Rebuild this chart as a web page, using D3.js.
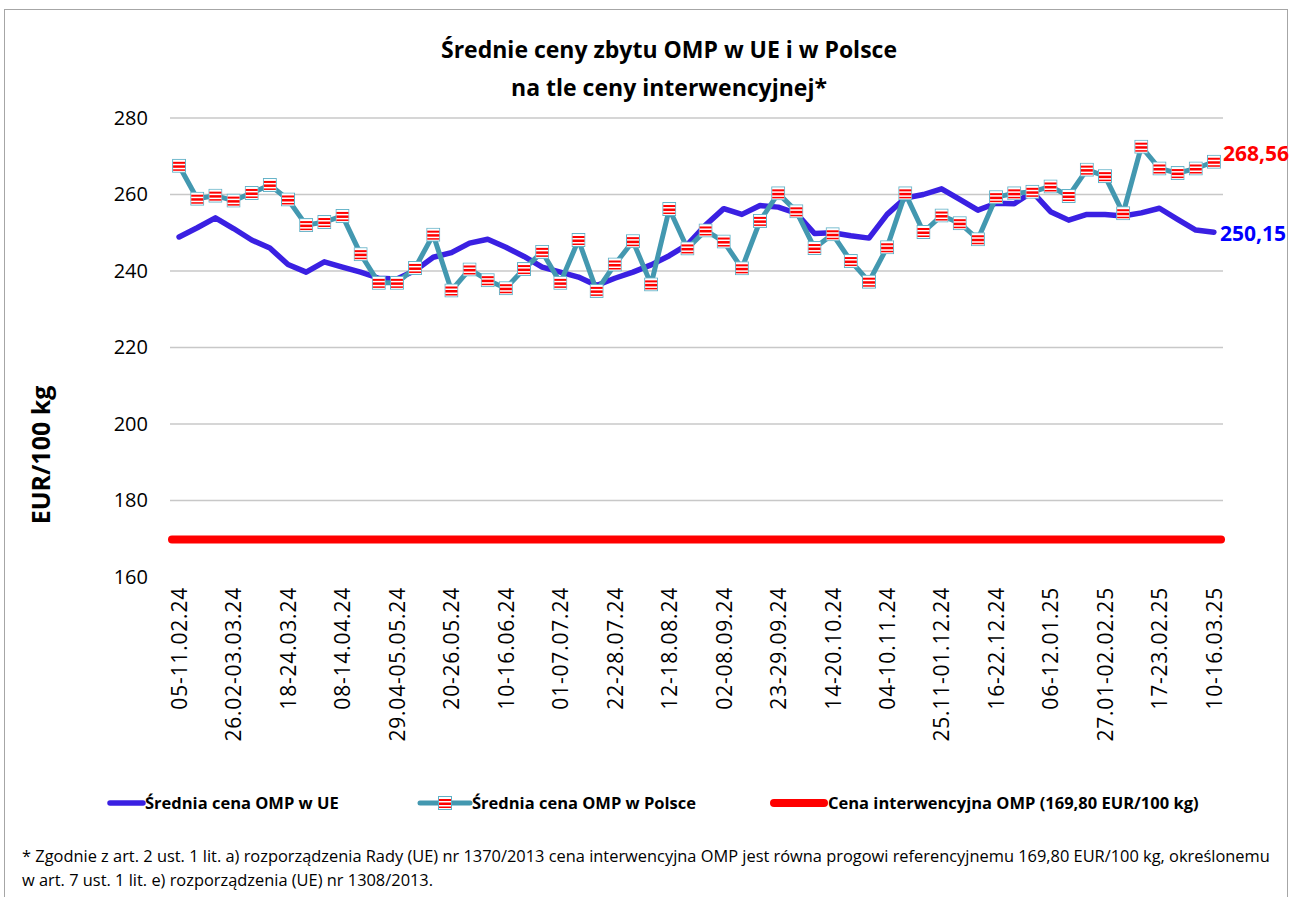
<!DOCTYPE html>
<html>
<head>
<meta charset="utf-8">
<script src="https://cdn.jsdelivr.net/npm/d3@7"></script>
<style>
  body { margin: 0; background: #fff; }
  svg { font-family: "Open Sans", sans-serif; }
</style>
</head>
<body>
<div id="chart"></div>
<script>
const width = 1291;
const height = 897;

// tygodnie notowań
const weeks = [
    "05-11.02.24", "12-18.02.24", "19-25.02.24", "26.02-03.03.24", "04-10.03.24", "11-17.03.24",
    "18-24.03.24", "25-31.03.24", "01-07.04.24", "08-14.04.24", "15-21.04.24", "22-28.04.24",
    "29.04-05.05.24", "06-12.05.24", "13-19.05.24", "20-26.05.24", "27.05-02.06.24", "03-09.06.24",
    "10-16.06.24", "17-23.06.24", "24-30.06.24", "01-07.07.24", "08-14.07.24", "15-21.07.24",
    "22-28.07.24", "29.07-04.08.24", "05-11.08.24", "12-18.08.24", "19-25.08.24", "26.08-01.09.24",
    "02-08.09.24", "09-15.09.24", "16-22.09.24", "23-29.09.24", "30.09-06.10.24", "07-13.10.24",
    "14-20.10.24", "21-27.10.24", "28.10-03.11.24", "04-10.11.24", "11-17.11.24", "18-24.11.24",
    "25.11-01.12.24", "02-08.12.24", "09-15.12.24", "16-22.12.24", "23-29.12.24", "30.12-05.01.25",
    "06-12.01.25", "13-19.01.25", "20-26.01.25", "27.01-02.02.25", "03-09.02.25", "10-16.02.25",
    "17-23.02.25", "24.02-02.03.25", "03-09.03.25", "10-16.03.25"
];

// etykiety osi X (co trzeci tydzień)
const tickLabels = [
    "05-11.02.24", "26.02-03.03.24", "18-24.03.24", "08-14.04.24", "29.04-05.05.24",
    "20-26.05.24", "10-16.06.24", "01-07.07.24", "22-28.07.24", "12-18.08.24",
    "02-08.09.24", "23-29.09.24", "14-20.10.24", "04-10.11.24", "25.11-01.12.24",
    "16-22.12.24", "06-12.01.25", "27.01-02.02.25", "17-23.02.25", "10-16.03.25"
];

// Średnia cena OMP w UE (EUR/100 kg)
const euPrices = [
    248.9, 251.3, 253.9, 251.1, 248.1, 246.0, 241.7, 239.7, 242.4, 241.0,
    239.7, 238.1, 237.9, 240.1, 243.6, 244.8, 247.3, 248.3, 246.2, 243.8,
    241.0, 239.7, 238.4, 236.2, 238.1, 239.7, 241.6, 244.0, 246.9, 252.0,
    256.3, 254.8, 257.1, 256.7, 255.1, 249.8, 250.0, 249.2, 248.6, 254.8,
    259.1, 260.0, 261.5, 258.7, 255.9, 257.7, 257.6, 260.7, 255.5, 253.3,
    254.8, 254.8, 254.4, 255.2, 256.4, 253.5, 250.7, 250.15
];

// Średnia cena OMP w Polsce (EUR/100 kg)
const plPrices = [
    267.5, 258.9, 259.7, 258.4, 260.4, 262.5, 258.7, 252.0, 252.8, 254.4,
    244.4, 236.9, 236.9, 240.8, 249.5, 234.9, 240.4, 237.6, 235.5, 240.5,
    245.0, 236.9, 248.1, 234.8, 241.7, 247.8, 236.5, 256.2, 245.9, 250.6,
    247.7, 240.7, 253.1, 260.3, 255.6, 246.0, 249.6, 242.6, 237.2, 246.2,
    260.3, 250.2, 254.5, 252.5, 248.3, 259.3, 260.3, 260.7, 262.1, 259.6,
    266.5, 264.8, 255.1, 272.5, 266.8, 265.6, 266.8, 268.56
];

// Cena interwencyjna OMP
const interventionPrice = 169.80;

const yTicks = [160, 180, 200, 220, 240, 260, 280];

const colors = {
    eu: "#3a20e2",
    pl: "#4398b0",
    intervention: "#ff0000"
};

const margin = { left: 170, right: 1223, top: 118, bottom: 577 };

const svg = d3.select("#chart").append("svg")
    .attr("width", width)
    .attr("height", height);

// znacznik (biało-czerwone paski)
const defs = svg.append("defs");
const marker = defs.append("symbol")
    .attr("id", "pl-marker")
    .attr("viewBox", "0 0 14 14")
    .attr("width", 14)
    .attr("height", 14);
marker.append("rect").attr("x", 0.5).attr("y", 0.5).attr("width", 13).attr("height", 13)
    .attr("fill", "#fff").attr("stroke", "#5fb0c6").attr("stroke-width", 1);
[[3, 2], [6.5, 2.5], [10.5, 1.5]].forEach(([y, h]) => {
    marker.append("rect").attr("x", 1).attr("y", y).attr("width", 12).attr("height", h).attr("fill", "#f00");
});

// ramka
svg.append("rect")
    .attr("x", 4.5).attr("y", 9.5)
    .attr("width", 1283).attr("height", 900)
    .attr("fill", "none")
    .attr("stroke", "#a6a6a6")
    .attr("stroke-width", 1);

const x = d3.scalePoint()
    .domain(weeks)
    .range([margin.left, margin.right])
    .padding(0.5);

const y = d3.scaleLinear()
    .domain([160, 280])
    .range([margin.bottom, margin.top]);

// tytuł
const title = svg.append("text")
    .attr("text-anchor", "middle")
    .style("font-weight", "bold")
    .style("font-size", "23px")
    .attr("fill", "#000");
title.append("tspan").attr("x", 669).attr("y", 58).text("Średnie ceny zbytu OMP w UE i w Polsce");
title.append("tspan").attr("x", 669).attr("y", 96).text("na tle ceny interwencyjnej*");

// linie siatki
svg.append("g")
    .selectAll("line")
    .data(yTicks.filter(d => d > 160))
    .enter()
    .append("line")
    .attr("x1", margin.left)
    .attr("x2", margin.right)
    .attr("y1", d => y(d))
    .attr("y2", d => y(d))
    .attr("stroke", "#c8c8c8")
    .attr("stroke-width", 1.5);

// oś Y
const yAxis = svg.append("g")
    .attr("transform", `translate(${margin.left - 22},0)`)
    .call(d3.axisLeft(y).tickValues(yTicks).tickSize(0).tickPadding(0));
yAxis.select(".domain").remove();
yAxis.selectAll("text")
    .style("font-size", "20px")
    .style("font-family", "'Open Sans', sans-serif")
    .attr("fill", "#000");

svg.append("text")
    .attr("transform", "translate(50,455) rotate(-90)")
    .attr("text-anchor", "middle")
    .style("font-weight", "bold")
    .style("font-size", "25px")
    .text("EUR/100 kg");

// oś X
const xAxis = svg.append("g")
    .attr("transform", `translate(0,${margin.bottom + 10})`)
    .call(d3.axisBottom(x).tickValues(tickLabels).tickSize(0).tickPadding(0));
xAxis.select(".domain").remove();
xAxis.selectAll("text")
    .style("font-size", "21px")
    .style("letter-spacing", "0.8px")
    .style("font-family", "'Open Sans', sans-serif")
    .attr("fill", "#000")
    .attr("text-anchor", "end")
    .attr("transform", "rotate(-90)")
    .attr("x", 0)
    .attr("y", 0)
    .attr("dy", "0.35em");

// cena interwencyjna
svg.append("line")
    .attr("x1", margin.left + 2)
    .attr("x2", margin.right - 2)
    .attr("y1", y(interventionPrice))
    .attr("y2", y(interventionPrice))
    .attr("stroke", colors.intervention)
    .attr("stroke-width", 8)
    .attr("stroke-linecap", "round");

const line = d3.line()
    .x((d, i) => x(weeks[i]))
    .y(d => y(d));

svg.append("path")
    .datum(euPrices)
    .attr("d", line)
    .attr("fill", "none")
    .attr("stroke", colors.eu)
    .attr("stroke-width", 5.5)
    .attr("stroke-linejoin", "round")
    .attr("stroke-linecap", "round");

svg.append("path")
    .datum(plPrices)
    .attr("d", line)
    .attr("fill", "none")
    .attr("stroke", colors.pl)
    .attr("stroke-width", 5)
    .attr("stroke-linejoin", "round");

svg.append("g")
    .selectAll("use")
    .data(plPrices)
    .enter()
    .append("use")
    .attr("href", "#pl-marker")
    .attr("x", (d, i) => x(weeks[i]) - 7)
    .attr("y", d => y(d) - 7);

// wartości końcowe
const last = weeks.length - 1;
svg.append("text")
    .attr("x", x(weeks[last]) + 9)
    .attr("y", y(plPrices[last]) - 8)
    .attr("dy", "0.35em")
    .attr("fill", "#ff0000")
    .style("font-weight", "bold")
    .style("font-size", "21px")
    .text("268,56");

svg.append("text")
    .attr("x", x(weeks[last]) + 6)
    .attr("y", y(euPrices[last]) + 1)
    .attr("dy", "0.35em")
    .attr("fill", "#0000ff")
    .style("font-weight", "bold")
    .style("font-size", "21px")
    .text("250,15");

// legenda
const legendY = 803;
const legend = svg.append("g").style("font-weight", "bold").style("font-size", "16.5px");

legend.append("line")
    .attr("x1", 110).attr("x2", 143).attr("y1", legendY).attr("y2", legendY)
    .attr("stroke", colors.eu).attr("stroke-width", 5.5).attr("stroke-linecap", "round");
legend.append("text").attr("x", 145).attr("y", legendY).attr("dy", "0.35em").text("Średnia cena OMP w UE");

legend.append("line")
    .attr("x1", 420).attr("x2", 470).attr("y1", legendY).attr("y2", legendY)
    .attr("stroke", colors.pl).attr("stroke-width", 5).attr("stroke-linecap", "round");
legend.append("use").attr("href", "#pl-marker").attr("x", 445 - 7).attr("y", legendY - 7);
legend.append("text").attr("x", 472).attr("y", legendY).attr("dy", "0.35em").text("Średnia cena OMP w Polsce");

legend.append("line")
    .attr("x1", 774).attr("x2", 824).attr("y1", legendY).attr("y2", legendY)
    .attr("stroke", colors.intervention).attr("stroke-width", 8).attr("stroke-linecap", "round");
legend.append("text").attr("x", 828).attr("y", legendY).attr("dy", "0.35em").text("Cena interwencyjna OMP (169,80 EUR/100 kg)");

// przypis
const note = svg.append("text").style("font-size", "16.4px").attr("fill", "#000");
note.append("tspan").attr("x", 22).attr("y", 862)
    .text("* Zgodnie z art. 2 ust. 1 lit. a)  rozporządzenia Rady (UE) nr 1370/2013 cena interwencyjna OMP jest równa progowi referencyjnemu 169,80 EUR/100 kg, określonemu");
note.append("tspan").attr("x", 22).attr("y", 886)
    .text("w art. 7 ust. 1 lit. e) rozporządzenia (UE) nr 1308/2013.");
</script>
</body>
</html>
